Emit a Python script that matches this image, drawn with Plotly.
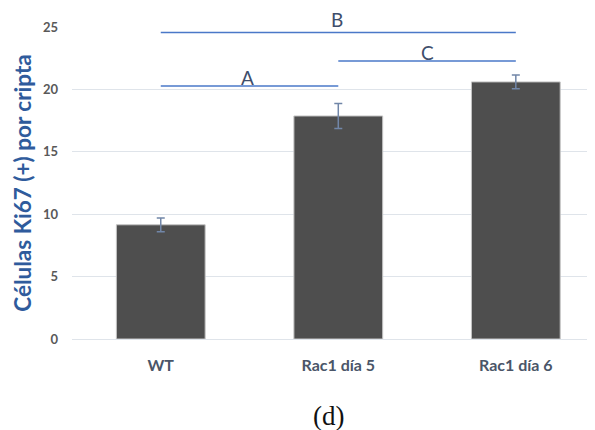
import plotly.graph_objects as go

categories = ["WT", "Rac1 día 5", "Rac1 día 6"]
values = [9.15, 17.87, 20.6]
errors = [0.55, 1.0, 0.55]
yticks = [0, 5, 10, 15, 20, 25]

# significance brackets: (start category index, end index, y level, label, label x, label pixel lift)
brackets = [
    (0, 1, 20.27, "A", 0.49, 8.5),
    (0, 2, 24.56, "B", 0.99, 13.2),
    (1, 2, 22.27, "C", 1.5, 9.0),
]

fig = go.Figure()
fig.add_trace(go.Bar(
    x=categories, y=values, width=0.5,
    marker=dict(color="#4e4e4e", line=dict(color="#c4c4c4", width=1)),
    error_y=dict(type="data", array=errors, color="#7186a8", thickness=1.5, width=4),
))

for x0, x1, yv, lab, lx, lift in brackets:
    fig.add_shape(type="line", xref="x", yref="y", x0=x0, x1=x1, y0=yv, y1=yv,
                  line=dict(color="#4a78c8", width=1.5))
    fig.add_annotation(x=lx, y=yv, xref="x", yref="y", text=lab, showarrow=False,
                       yanchor="middle", yshift=lift,
                       font=dict(family="Lato", size=19, color="#3e4d6b"))

fig.add_annotation(x=0.49, y=-0.248, xref="paper", yref="paper", text="(d)", showarrow=False,
                   yanchor="middle",
                   font=dict(family="Liberation Serif", size=27, color="#111111"))

fig.update_layout(
    width=595, height=430,
    margin=dict(l=64, r=8, t=18.5, b=98.5),
    paper_bgcolor="white", plot_bgcolor="white",
    showlegend=False,
    font=dict(family="Lato"),
    xaxis=dict(
        type="category", range=[-0.5, 2.446],
        showgrid=False, showline=False, zeroline=False,
        tickfont=dict(family="Lato", size=16, color="#4a5568", weight="bold"),
        ticks="", ticklabelstandoff=15,
    ),
    yaxis=dict(
        range=[0, 25], tickvals=yticks,
        showgrid=True, gridcolor="#dfe4ea", gridwidth=1.2,
        zeroline=True, zerolinecolor="#dfe4ea", zerolinewidth=1.2,
        showline=False, ticks="", ticklabelstandoff=13,
        tickfont=dict(family="Lato", size=13, color="#595959", weight="bold"),
        title=dict(text="Células Ki67 (+) por cripta", standoff=5,
                   font=dict(family="Lato", size=22.5, color="#2f5b9c", weight="bold")),
    ),
)

fig.write_html("out.html")
